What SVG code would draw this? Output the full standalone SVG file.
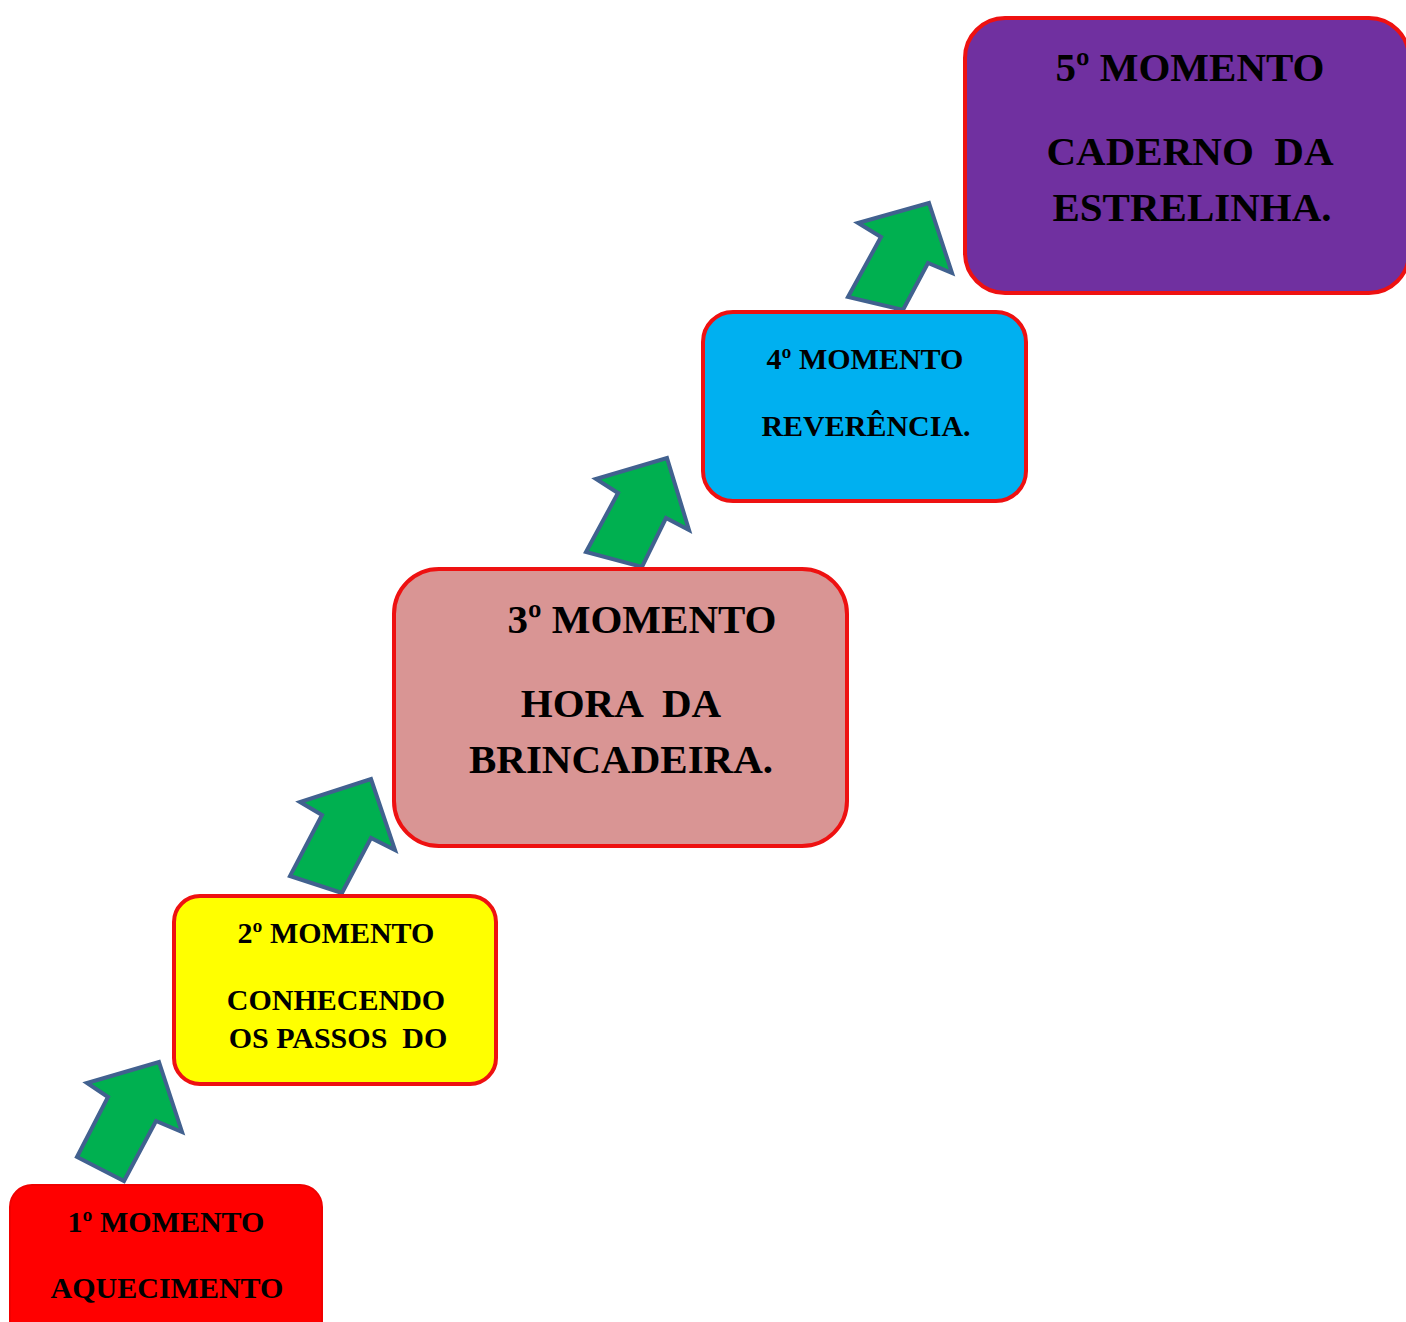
<svg xmlns="http://www.w3.org/2000/svg" width="1406" height="1322" viewBox="0 0 1406 1322">
<style>
.box{stroke:#EE1111;stroke-width:4}
.arrow{fill:#00B050;stroke:#41618F;stroke-width:4;stroke-linejoin:miter}
.t{font-family:"Liberation Serif","Times New Roman",serif;font-weight:bold;fill:#000;text-anchor:middle}
.s{font-size:30px}
.l{font-size:41px}
</style>
<rect width="1406" height="1322" fill="#FFFFFF"/>
<g id="connectors">
<polygon class="arrow" points="159,1062 182,1132 156,1121 124,1181 77,1157 108,1097 87,1083"/>
<polygon class="arrow" points="371,779 395,850 371,838 342,893 290,876 322,815 300,802"/>
<polygon class="arrow" points="667,458 689,530 666,518 642,567 586,552 618,493 596,479"/>
<polygon class="arrow" points="929,203 952,273 928,263 903,310 848,297 881,237 858,223"/>
</g>
<g id="node1">
<rect x="10" y="1185" width="312" height="170" rx="22" fill="#FF0000" stroke="#F00000" stroke-width="2"/>
<text class="t s" x="166" y="1232">1º MOMENTO</text>
<text class="t s" x="167" y="1298">AQUECIMENTO</text>
</g>
<g id="node2">
<rect class="box" x="174" y="896" width="322" height="188" rx="26" fill="#FFFF00"/>
<text class="t s" x="336" y="943">2º MOMENTO</text>
<text class="t s" x="336" y="1010">CONHECENDO</text>
<text class="t s" x="338" y="1048" xml:space="preserve">OS PASSOS  DO</text>
</g>
<g id="node3">
<rect class="box" x="394" y="569" width="453" height="277" rx="45" fill="#D99594"/>
<text class="t l" x="642" y="633">3º MOMENTO</text>
<text class="t l" x="621" y="717" xml:space="preserve">HORA  DA</text>
<text class="t l" x="621" y="773">BRINCADEIRA.</text>
</g>
<g id="node4">
<rect class="box" x="703" y="312" width="323" height="189" rx="30" fill="#00B0F0"/>
<text class="t s" x="865" y="369">4º MOMENTO</text>
<text class="t s" x="866" y="436">REVERÊNCIA.</text>
</g>
<g id="node5">
<rect class="box" x="965" y="18" width="444" height="275" rx="40" fill="#7030A0"/>
<text class="t l" x="1190" y="81">5º MOMENTO</text>
<text class="t l" x="1190" y="165" xml:space="preserve">CADERNO  DA</text>
<text class="t l" x="1192" y="221">ESTRELINHA.</text>
</g>
</svg>
